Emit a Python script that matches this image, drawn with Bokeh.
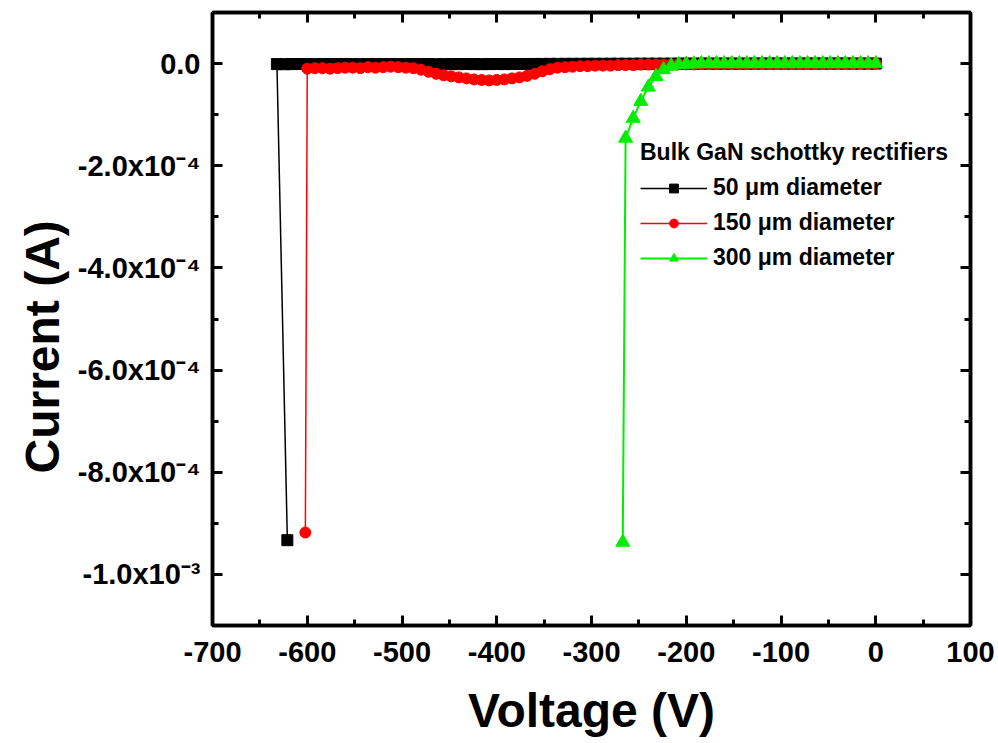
from bokeh.plotting import figure
from bokeh.models import (ColumnDataSource, LinearAxis, FixedTicker, CustomJSTickFormatter,
                          Range1d, Legend, LegendItem, Title)
from bokeh.embed import file_html
from bokeh.resources import INLINE

# Reverse-bias sweeps of bulk GaN Schottky rectifiers (current in microamps)
black_voltage = list(range(-632, 1, 8))
black_current_uA = [
    -1.0, -1.2, -1.0, -0.8, -1.0, -1.1, -0.9, -1.0, -1.0, -0.9,
    -1.0, -1.1, -1.0, -0.9, -1.0, -1.0, -1.1, -1.0, -0.9, -1.0,
    -1.0, -1.2, -1.1, -1.0, -1.0, -0.9, -1.0, -1.1, -1.0, -0.9,
    -1.0, -0.9, -0.8, -0.8, -0.7, -0.7, -0.6, -0.6, -0.5, -0.5,
    -0.5, -0.4, -0.4, -0.4, -0.3, -0.3, -0.3, -0.3, -0.2, -0.2,
    -0.2, -0.2, -0.2, -0.1, -0.1, -0.1, -0.1, -0.1, -0.1, -0.1,
    -0.1, -0.1, -0.1, 0.0, 0.0, 0.0, 0.0, 0.0, 0.0, 0.0,
    0.0, 0.0, 0.0, 0.0, 0.0, 0.0, 0.0, 0.0, 0.0, 0.0,
]
black_breakdown = (-621, -933.0)

red_voltage = list(range(-600, 1, 8))
red_current_uA = [
    -10, -9, -9, -10, -9, -8, -8, -9, -7, -8,
    -7, -6, -7, -8, -9, -12, -16, -20, -23, -25,
    -27, -29, -31, -32, -33, -32, -31, -29, -27, -24,
    -20, -15, -11, -8, -7, -6, -5, -5, -4, -4,
    -4, -3, -3, -3, -2, -2, -2, -2, -2, -1.5,
    -1.5, -1.5, -1, -1, -1, -1, -1, -1, -1, -0.5,
    -0.5, -0.5, -0.5, -0.5, -0.5, -0.5, -0.5, -0.5, -0.5, -0.5,
    -0.5, -0.5, 0, 0, 0, 0,
]
red_breakdown = (-602, -918.0)

green_voltage = list(range(-264, 1, 8))
green_current_uA = [
    -146, -107, -74, -46, -25, -12, -5, -2, -1, -0.5,
    0, 0, 0, 0, 0, 0, 0, 0, 0, 0,
    0, 0, 0, 0, 0, 0, 0, 0, 0, 0,
    0, 0, 0, 0,
]
green_breakdown = (-267, -937.0)

series_labels = ["50 \u03bcm diameter", "150 \u03bcm diameter", "300 \u03bcm diameter"]
series_colors = ["#000000", "#ff0000", "#00ee00"]
legend_title = "Bulk GaN schottky rectifiers"

x_ticks = [-700, -600, -500, -400, -300, -200, -100, 0, 100]
x_minor = [-650, -550, -450, -350, -250, -150, -50, 50]
y_ticks = [0.0, -2e-4, -4e-4, -6e-4, -8e-4, -1e-3]
y_minor = [-1e-4, -3e-4, -5e-4, -7e-4, -9e-4]
y_tick_labels = ["0.0", "-2.0x10\u207b\u2074", "-4.0x10\u207b\u2074", "-6.0x10\u207b\u2074",
                 "-8.0x10\u207b\u2074", "-1.0x10\u207b\u00b3"]

FONT = "Liberation Sans"


def sweep_source(voltage, current_uA, breakdown):
    xs = [breakdown[0]] + list(voltage)
    ys = [breakdown[1] * 1e-6] + [c * 1e-6 for c in current_uA]
    return ColumnDataSource(dict(x=xs, y=ys))


p = figure(width=998, height=743, output_backend="svg", toolbar_location=None,
           x_range=Range1d(-700, 100), y_range=Range1d(-1.1e-3, 1e-4),
           min_border_left=212, min_border_right=28, min_border_top=12, min_border_bottom=118,
           x_axis_label="Voltage (V)")
p.grid.visible = False
p.outline_line_color = "black"
p.outline_line_width = 3.5
p.background_fill_color = "white"
p.border_fill_color = "white"

xt = FixedTicker(ticks=x_ticks, minor_ticks=x_minor)
yt = FixedTicker(ticks=y_ticks, minor_ticks=y_minor)
xfmt = CustomJSTickFormatter(code="return tick.toFixed(0);")
yfmt = CustomJSTickFormatter(args=dict(vals=y_ticks, labs=y_tick_labels), code="""
let best = 0, d = Infinity;
for (let i = 0; i < vals.length; i++) {
  const e = Math.abs(vals[i] - tick);
  if (e < d) { d = e; best = i; }
}
return labs[best];
""")


def style_axis(ax):
    ax.axis_line_width = 3.5
    ax.major_tick_line_width = 3
    ax.minor_tick_line_width = 3
    ax.major_tick_in = 10
    ax.major_tick_out = 0
    ax.minor_tick_in = 6
    ax.minor_tick_out = 0
    ax.major_label_text_font = FONT
    ax.major_label_text_font_style = "bold"
    ax.major_label_text_font_size = "29px"
    ax.major_label_text_color = "black"
    ax.axis_label_text_font = FONT
    ax.axis_label_text_font_style = "bold"
    ax.axis_label_text_font_size = "48px"
    ax.axis_label_text_color = "black"


xa = p.xaxis[0]
xa.ticker = xt
xa.formatter = xfmt
style_axis(xa)
xa.major_label_standoff = 16
xa.axis_label_standoff = 19

ya = p.yaxis[0]
ya.ticker = yt
ya.formatter = yfmt
style_axis(ya)
ya.major_label_standoff = 12

# vertical axis title, set a little below the middle of the left edge
ytitle = Title(text="Current (A)", align="left", offset=152, standoff=12,
               text_font=FONT, text_font_style="bold", text_font_size="48px",
               text_color="black")
p.add_layout(ytitle, "left")

# mirrored tick marks on the top and right edges
blank = CustomJSTickFormatter(code="return '';")
top = LinearAxis(ticker=xt, formatter=blank)
style_axis(top)
top.major_label_text_font_size = "1px"
top.major_label_standoff = 0
p.add_layout(top, "above")
right = LinearAxis(ticker=yt, formatter=blank)
style_axis(right)
right.major_label_text_font_size = "1px"
right.major_label_standoff = 0
p.add_layout(right, "right")

src_b = sweep_source(black_voltage, black_current_uA, black_breakdown)
src_r = sweep_source(red_voltage, red_current_uA, red_breakdown)
src_g = sweep_source(green_voltage, green_current_uA, green_breakdown)

lb = p.line("x", "y", source=src_b, color=series_colors[0], line_width=1.5)
mb = p.scatter("x", "y", source=src_b, marker="square", size=11, color=series_colors[0])
lr = p.line("x", "y", source=src_r, color=series_colors[1], line_width=1.5)
mr = p.scatter("x", "y", source=src_r, marker="circle", size=11, color=series_colors[1])
lg = p.line("x", "y", source=src_g, color=series_colors[2], line_width=2)
mg = p.scatter("x", "y", source=src_g, marker="triangle", size=14, color=series_colors[2])

legend = Legend(items=[
    LegendItem(label=series_labels[0], renderers=[lb, mb]),
    LegendItem(label=series_labels[1], renderers=[lr, mr]),
    LegendItem(label=series_labels[2], renderers=[lg, mg]),
], title=legend_title, location=(428, 354))
legend.padding = 0
legend.margin = 0
legend.border_line_color = None
legend.background_fill_alpha = 0
legend.glyph_width = 67
legend.glyph_height = 22
legend.label_height = 20
legend.label_standoff = 6
legend.spacing = 8
legend.label_text_font = FONT
legend.label_text_font_style = "bold"
legend.label_text_font_size = "23px"
legend.label_text_color = "black"
legend.title_text_font = FONT
legend.title_text_font_style = "bold"
legend.title_text_font_size = "23px"
legend.title_text_color = "black"
legend.title_standoff = 8
p.add_layout(legend)

open("out.html", "w").write(file_html(p, INLINE))
